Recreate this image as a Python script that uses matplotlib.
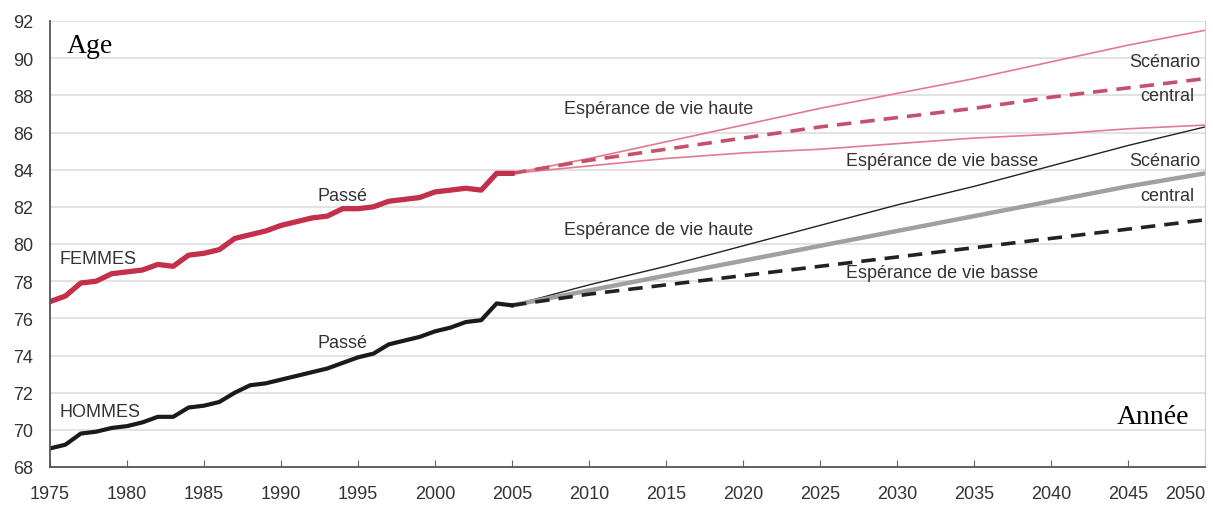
import numpy as np
import matplotlib.pyplot as plt

# past values, 1975-2005
years_past = np.arange(1975, 2006)
femmes_past = [76.9, 77.2, 77.9, 78.0, 78.4, 78.5, 78.6, 78.9, 78.8, 79.4,
               79.5, 79.7, 80.3, 80.5, 80.7, 81.0, 81.2, 81.4, 81.5, 81.9,
               81.9, 82.0, 82.3, 82.4, 82.5, 82.8, 82.9, 83.0, 82.9, 83.8, 83.8]
hommes_past = [69.0, 69.2, 69.8, 69.9, 70.1, 70.2, 70.4, 70.7, 70.7, 71.2,
               71.3, 71.5, 72.0, 72.4, 72.5, 72.7, 72.9, 73.1, 73.3, 73.6,
               73.9, 74.1, 74.6, 74.8, 75.0, 75.3, 75.5, 75.8, 75.9, 76.8, 76.7]

# projections, every 5 years 2005-2050
years_proj = np.arange(2005, 2051, 5)
femmes_haute = [83.8, 84.6, 85.5, 86.4, 87.3, 88.1, 88.9, 89.8, 90.7, 91.5]
femmes_central = [83.8, 84.5, 85.1, 85.7, 86.3, 86.8, 87.3, 87.9, 88.4, 88.9]
femmes_basse = [83.8, 84.2, 84.6, 84.9, 85.1, 85.4, 85.7, 85.9, 86.2, 86.4]
hommes_haute = [76.7, 77.8, 78.8, 79.9, 81.0, 82.1, 83.1, 84.2, 85.3, 86.3]
hommes_central = [76.7, 77.5, 78.3, 79.1, 79.9, 80.7, 81.5, 82.3, 83.1, 83.8]
hommes_basse = [76.7, 77.3, 77.8, 78.3, 78.8, 79.3, 79.8, 80.3, 80.8, 81.3]

xticks = np.arange(1975, 2051, 5)
yticks = np.arange(68, 93, 2)

fig = plt.figure(figsize=(12.13, 5.06), dpi=100)
ax = fig.add_axes([50 / 1213, 1 - 468 / 506, 1155 / 1213, 446 / 506])

ax.set_xlim(1975, 2050)
ax.set_ylim(68, 92)
ax.set_xticks(xticks)
ax.set_yticks(yticks)
ax.grid(axis="y", color="#dddddd", linewidth=1.2)
ax.set_axisbelow(True)

ax.spines["top"].set_visible(False)
ax.spines["right"].set_color("#cccccc")
ax.spines["left"].set_color("#555555")
ax.spines["bottom"].set_color("#555555")
ax.spines["left"].set_linewidth(1.3)
ax.spines["bottom"].set_linewidth(1.3)
ax.tick_params(axis="x", direction="in", length=5, color="#666666",
               labelsize=13, labelcolor="#333333", pad=13)
ax.tick_params(axis="y", length=0, labelsize=13, labelcolor="#333333", pad=12)
for lab in ax.get_xticklabels() + ax.get_yticklabels():
    lab.set_fontfamily("Liberation Sans")
ax.get_xticklabels()[-1].set_horizontalalignment("right")
ax.get_xticklabels()[-1].set_x(2050.3)

red = "#c2304c"
pink = "#e27a90"
ax.plot(years_proj, femmes_haute, color=pink, lw=1.2)
ax.plot(years_proj, femmes_basse, color=pink, lw=1.2)
ax.plot(years_proj, femmes_central, color="#c4506c", lw=2.6, ls=(0, (4, 2.5)))
ax.plot(years_past, femmes_past, color=red, lw=3.8, solid_joinstyle="round")

ax.plot(years_proj, hommes_haute, color="#222222", lw=1.0)
ax.plot(years_proj, hommes_central, color="#a0a0a0", lw=3.2)
ax.plot(years_proj, hommes_basse, color="#222222", lw=2.6, ls=(0, (4, 2.5)))
ax.plot(years_past, hommes_past, color="#1a1a1a", lw=3.0, solid_joinstyle="round")

lbl = dict(fontsize=13, color="#333333", family="Liberation Sans",
           ha="center", va="center")
ax.text(1975.6, 79.2, "FEMMES", **dict(lbl, ha="left"))
ax.text(1975.6, 71.0, "HOMMES", **dict(lbl, ha="left"))
ax.text(1994.0, 82.6, "Passé", **lbl)
ax.text(1994.0, 74.7, "Passé", **lbl)
ax.text(2014.5, 87.3, "Espérance de vie haute", **lbl)
ax.text(2014.5, 80.8, "Espérance de vie haute", **lbl)
ax.text(2032.9, 84.5, "Espérance de vie basse", **lbl)
ax.text(2032.9, 78.45, "Espérance de vie basse", **lbl)
ax.text(2049.7, 89.8, "Scénario", **dict(lbl, ha="right"))
ax.text(2049.3, 88.0, "central", **dict(lbl, ha="right"))
ax.text(2049.7, 84.5, "Scénario", **dict(lbl, ha="right"))
ax.text(2049.3, 82.6, "central", **dict(lbl, ha="right"))

ax.text(1976.1, 90.7, "Age", fontsize=20, family="Liberation Serif",
        color="black", ha="left", va="center")
ax.text(2049.0, 70.7, "Année", fontsize=20, family="Liberation Serif",
        color="black", ha="right", va="center")

fig.savefig("out.png", dpi=100)
